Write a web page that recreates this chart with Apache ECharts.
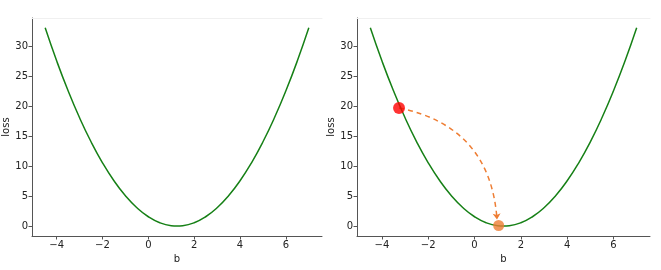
<!DOCTYPE html>
<html><head><meta charset="utf-8">
<script src="https://cdn.jsdelivr.net/npm/echarts@6/dist/echarts.min.js"></script>
<style>html,body{margin:0;padding:0;background:#fff}#c{width:661px;height:270px}</style>
</head><body><div id="c"></div>
<script>
const bValues = [-4.5,-4,-3.5,-3,-2.5,-2,-1.5,-1,-0.5,0,0.5,1,1.25,1.5,2,2.5,3,3.5,4,4.5,5,5.5,6,6.5,7];
const lossValues = [33.06,27.56,22.56,18.06,14.06,10.56,7.56,5.06,3.06,1.56,0.56,0.06,0,0.06,0.56,1.56,3.06,5.06,7.56,10.56,14.06,18.06,22.56,27.56,33.06];
const xTicks = [-4,-2,0,2,4,6];
const yTicks = [0,5,10,15,20,25,30];
const startPoint = [-3.26, 19.7];
const endPoint = [1.04, 0.1];
const arrowTip = [0.97, 1.1];

const curve = bValues.map((b,i)=>[b,lossValues[i]]);
const fmt = v => (v<0 ? '\u2212'+Math.abs(v) : String(v));
const font = 'DejaVu Sans';
function xAx(gi){return {type:'value',gridIndex:gi,min:-5.075,max:7.575,name:'b',nameLocation:'middle',nameGap:15,
  nameTextStyle:{fontFamily:font,fontSize:10,color:'#222'},
  axisLine:{onZero:false,lineStyle:{color:'#555',width:1}},splitLine:{show:false},
  axisTick:{customValues:xTicks,length:3.5,lineStyle:{color:'#555'}},
  axisLabel:{customValues:xTicks,formatter:fmt,fontFamily:font,fontSize:10,color:'#222',margin:4}};}
function xTop(gi){return {type:'value',gridIndex:gi,position:'top',min:-5.075,max:7.575,
  axisLine:{onZero:false,lineStyle:{color:'#f0f0f0',width:1}},axisTick:{show:false},axisLabel:{show:false},splitLine:{show:false}};}
function yAx(gi){return {type:'value',gridIndex:gi,min:-1.65,max:34.7,name:'loss',nameLocation:'middle',nameGap:21,nameRotate:90,
  nameTextStyle:{fontFamily:font,fontSize:10,color:'#222'},
  axisLine:{show:true,onZero:false,lineStyle:{color:'#555',width:1}},splitLine:{show:false},
  axisTick:{show:true,customValues:yTicks,length:3.5,lineStyle:{color:'#555'}},
  axisLabel:{customValues:yTicks,formatter:fmt,fontFamily:font,fontSize:10,color:'#222',margin:4}};}
const chart = echarts.init(document.getElementById('c'));
chart.setOption({
  animation:false,
  grid:[{left:29,top:18,width:293,height:218},{left:357,top:18,width:293,height:218}],
  xAxis:[xAx(0),xAx(1),xTop(0),xTop(1)],
  yAxis:[yAx(0),yAx(1)],
  series:[
    {type:'line',xAxisIndex:0,yAxisIndex:0,data:curve,smooth:true,showSymbol:false,lineStyle:{color:'#168016',width:1.5}},
    {type:'line',xAxisIndex:1,yAxisIndex:1,data:curve,smooth:true,showSymbol:false,lineStyle:{color:'#168016',width:1.5}},
    {type:'lines',coordinateSystem:'cartesian2d',xAxisIndex:1,yAxisIndex:1,z:3,
      symbol:['none','arrow'],symbolSize:6,
      lineStyle:{color:'#ee7d33',width:1.5,type:[5,4],curveness:0.38,opacity:1},
      data:[{coords:[startPoint,arrowTip]}]},
    {type:'scatter',xAxisIndex:1,yAxisIndex:1,z:5,symbolSize:12,itemStyle:{color:'#ff0000'},data:[startPoint]},
    {type:'scatter',xAxisIndex:1,yAxisIndex:1,z:5,symbolSize:11,itemStyle:{color:'#ee7d33'},data:[endPoint]}
  ]
});
</script></body></html>
